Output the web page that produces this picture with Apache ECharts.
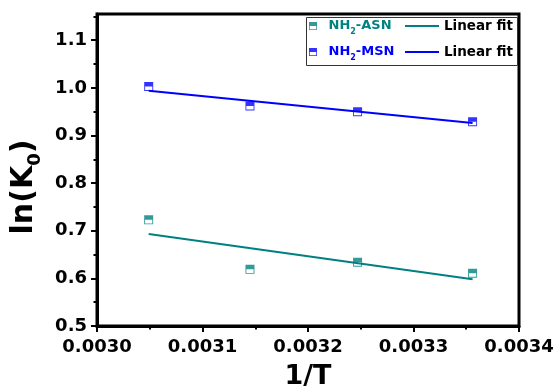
<!DOCTYPE html>
<html>
<head>
<meta charset="utf-8">
<script src="https://cdn.jsdelivr.net/npm/echarts@6/dist/echarts.min.js"></script>
<style>
  html, body { margin: 0; padding: 0; background: #fff; }
  #main { width: 556px; height: 387px; }
</style>
</head>
<body>
<div id="main"></div>
<script>
// values
const invT = [0.003049, 0.003145, 0.003247, 0.003356];
const lnK_ASN = [0.723, 0.619, 0.634, 0.611];
const lnK_MSN = [1.003, 0.962, 0.950, 0.929];
// linear fit end points
const fitT = [0.003049, 0.003356];
const fit_ASN = [0.693, 0.598];
const fit_MSN = [0.994, 0.926];
// axis ticks
const xRange = [0.0030, 0.0034];
const yMajor = [0.5, 0.6, 0.7, 0.8, 0.9, 1.0, 1.1];
const yMinor = [0.55, 0.65, 0.75, 0.85, 0.95, 1.05, 1.15];

const TEAL = '#008080';
const BLUE = '#0000ff';
const FONT = 'DejaVu Sans';
// square, top half filled, bottom half hollow
const halfSq = 'path://M0 0H10V10H0Z M1 5V9H9V5Z';

const zip = (xs, ys) => xs.map((x, i) => [x, ys[i]]);

const chart = echarts.init(document.getElementById('main'));

const legendRich = {
  m: { fontFamily: FONT, fontWeight: 'bold', fontSize: 13, lineHeight: 20 },
  s: { fontFamily: FONT, fontWeight: 'bold', fontSize: 8, lineHeight: 12, verticalAlign: 'bottom' }
};

chart.setOption({
  backgroundColor: '#fff',
  animation: false,
  grid: {
    left: 97, right: 37, top: 14, bottom: 61,
    outerBoundsMode: 'none',
    show: true, borderColor: '#000', borderWidth: 3, backgroundColor: '#fff'
  },
  graphic: [{
    type: 'rect',
    shape: { x: 306.5, y: 17.5, width: 211, height: 48 },
    style: { fill: '#fff', stroke: '#333', lineWidth: 1 },
    z: 50
  }],
  legend: [{
    left: 309, top: 16, orient: 'vertical', padding: 0,
    itemWidth: 21, itemHeight: 8, itemGap: 6, z: 60,
    data: [
      { name: 'NH2-ASN', icon: halfSq, textStyle: { color: TEAL } },
      { name: 'NH2-MSN', icon: halfSq, textStyle: { color: BLUE } }
    ],
    formatter: name => '{m|NH}{s|2}{m|' + name.slice(3) + '}',
    textStyle: { fontFamily: FONT, fontWeight: 'bold', fontSize: 13, lineHeight: 20, rich: legendRich }
  }, {
    left: 405, top: 16, orient: 'vertical', padding: 0,
    icon: 'rect', itemWidth: 34, itemHeight: 2, itemGap: 6, z: 60,
    data: ['fitASN', 'fitMSN'],
    formatter: () => 'Linear fit',
    textStyle: { fontFamily: FONT, fontWeight: 'bold', fontSize: 13.5, lineHeight: 20, color: '#000' }
  }],
  xAxis: {
    type: 'value',
    min: xRange[0], max: xRange[1], interval: 0.0001,
    axisLine: { show: true, onZero: false, lineStyle: { color: '#000', width: 3 } },
    axisTick: { show: true, length: 6, lineStyle: { color: '#000', width: 2 } },
    minorTick: { show: true, splitNumber: 2, length: 3.5, lineStyle: { color: '#000', width: 2 } },
    axisLabel: {
      margin: 12, color: '#000', fontFamily: FONT, fontWeight: 'bold', fontSize: 18,
      formatter: v => v.toFixed(4)
    },
    splitLine: { show: false },
    name: '1/T', nameLocation: 'middle', nameGap: 37,
    nameTextStyle: { fontFamily: FONT, fontWeight: 'bold', fontSize: 27, color: '#000' }
  },
  yAxis: [{
    type: 'value',
    min: 0.5, max: 1.155, interval: 0.05,
    axisLine: { show: true, onZero: false, lineStyle: { color: '#000', width: 3 } },
    axisTick: { show: true, length: 6, customValues: yMajor, lineStyle: { color: '#000', width: 2 } },
    axisLabel: {
      margin: 10, color: '#000', fontFamily: FONT, fontWeight: 'bold', fontSize: 18,
      customValues: yMajor, formatter: v => v.toFixed(1)
    },
    splitLine: { show: false },
    name: '{t|ln(K}{s|0}{t|)}', nameLocation: 'middle', nameGap: 47, nameRotate: 90,
    nameTextStyle: {
      color: '#000',
      padding: [0, 34, 0, 0],
      rich: {
        t: { fontFamily: FONT, fontWeight: 'bold', fontSize: 30, lineHeight: 40 },
        s: { fontFamily: FONT, fontWeight: 'bold', fontSize: 18, lineHeight: 24, verticalAlign: 'bottom' }
      }
    }
  }, {
    type: 'value', position: 'left', offset: 0,
    min: 0.5, max: 1.155, interval: 0.05,
    axisLine: { show: false },
    axisTick: { show: true, length: 3.5, customValues: yMinor, lineStyle: { color: '#000', width: 2 } },
    axisLabel: { show: false },
    splitLine: { show: false }
  }],
  series: [{
    name: 'fitASN', type: 'line', data: zip(fitT, fit_ASN),
    symbol: 'none', color: TEAL, lineStyle: { color: TEAL, width: 2 }, z: 2
  }, {
    name: 'fitMSN', type: 'line', data: zip(fitT, fit_MSN),
    symbol: 'none', color: BLUE, lineStyle: { color: BLUE, width: 2 }, z: 2
  }, {
    name: 'NH2-ASN', type: 'scatter', data: zip(invT, lnK_ASN),
    symbol: halfSq, symbolSize: 9, itemStyle: { color: TEAL }, z: 3
  }, {
    name: 'NH2-MSN', type: 'scatter', data: zip(invT, lnK_MSN),
    symbol: halfSq, symbolSize: 9, itemStyle: { color: BLUE }, z: 3
  }]
});
</script>
</body>
</html>
